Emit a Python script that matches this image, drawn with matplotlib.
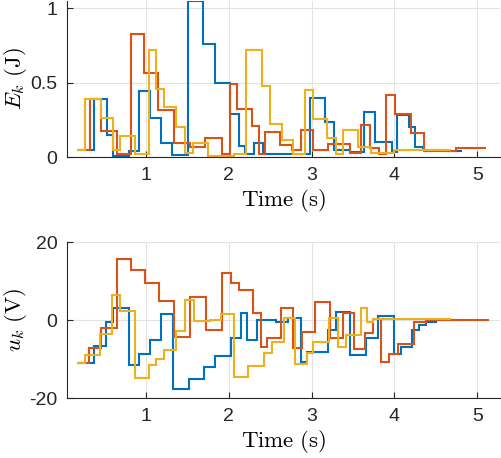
import matplotlib
matplotlib.use("Agg")
import matplotlib.pyplot as plt

# step edges (s) and values
t_E_blue = [0.17, 0.377, 0.534, 0.60, 0.795, 0.916, 1.048, 1.18, 1.32, 1.51, 1.69, 1.83, 2.02, 2.13, 2.20,
            2.31, 2.42, 2.976, 3.165, 3.27, 3.46, 3.63, 3.77, 3.97, 4.03, 4.18, 4.245, 4.34, 4.6, 4.82]
E_blue = [0.05, 0.39, 0.148, 0.01, 0.04, 0.445, 0.264, 0.092, 0.013, 1.047, 0.763, 0.50, 0.29, 0.074, 0.02,
          0.096, 0.018, 0.40, 0.233, 0.047, 0.036, 0.30, 0.10, 0.035, 0.28, 0.20, 0.065, 0.05, 0.04]

t_E_orange = [0.17, 0.325, 0.454, 0.654, 0.82, 0.98, 1.15, 1.337, 1.53, 1.72, 1.915, 2.02, 2.10, 2.277, 2.365,
              2.44, 2.62, 2.76, 2.87, 3.015, 3.2, 3.46, 3.6, 3.71, 3.81, 3.90, 4.01, 4.20, 4.355, 4.74, 5.10]
E_orange = [0.05, 0.39, 0.174, 0.018, 0.828, 0.566, 0.315, 0.092, 0.069, 0.13, 0.024, 0.49, 0.32, 0.21, 0.02,
            0.168, 0.083, 0.047, 0.18, 0.047, 0.087, 0.03, 0.215, 0.063, 0.024, 0.416, 0.29, 0.163, 0.043, 0.058]

t_E_yellow = [0.17, 0.265, 0.454, 0.60, 0.687, 0.867, 1.036, 1.12, 1.217, 1.36, 1.47, 1.57, 1.755, 2.06, 2.21,
              2.405, 2.50, 2.645, 2.78, 2.92, 3.015, 3.19, 3.29, 3.385, 3.566, 3.72, 4.0, 4.68]
E_yellow = [0.05, 0.39, 0.26, 0.047, 0.141, 0.024, 0.718, 0.456, 0.338, 0.203, 0.03, 0.096, 0.01, 0.02,
            0.718, 0.476, 0.22, 0.118, 0.018, 0.45, 0.253, 0.13, 0.02, 0.18, 0.07, 0.03, 0.05]

t_u_blue = [0.17, 0.377, 0.526, 0.60, 0.80, 0.92, 1.05, 1.18, 1.33, 1.52, 1.70, 1.835, 2.03, 2.15, 2.225, 2.34,
            2.575, 2.715, 2.876, 2.94, 3.2, 3.29, 3.465, 3.66, 3.80, 3.99, 4.08, 4.21, 4.29, 4.38, 4.50, 4.82]
u_blue = [-10.9, -6.7, -0.4, 3.2, -11.6, -8.8, -5.1, 1.45, -17.8, -15.0, -12.0, -9.3, -4.5, 1.9, -5.1, 0.0,
          -0.4, 0.4, -10.8, -8.1, -2.6, 2.1, -9.1, -4.5, 1.0, -8.8, -6.9, -2.6, -1.3, -0.4, 0.0]

t_u_orange = [0.17, 0.316, 0.454, 0.654, 0.82, 0.99, 1.157, 1.337, 1.53, 1.73, 1.92, 2.03, 2.12, 2.29, 2.386,
              2.46, 2.63, 2.775, 2.89, 3.036, 3.217, 3.377, 3.506, 3.65, 3.74, 3.84, 3.94, 4.04, 4.23, 4.38, 5.14]
u_orange = [-10.9, -7.1, -2.1, 15.6, 12.9, 9.5, 4.9, -4.4, 5.9, -2.6, 12.1, 9.6, 7.7, 1.9, -6.9,
            -4.7, 3.2, -7.1, -3.1, 4.6, -4.7, 1.9, -7.5, -3.3, 0.3, -10.8, -8.6, -6.1, -0.4, 0.1]

t_u_yellow = [0.17, 0.265, 0.446, 0.594, 0.687, 0.867, 1.04, 1.12, 1.22, 1.37, 1.475, 1.585, 1.77, 1.907, 2.06,
              2.23, 2.43, 2.52, 2.67, 2.80, 2.94, 3.015, 3.21, 3.32, 3.41, 3.60, 3.67, 3.74, 4.68]
u_yellow = [-10.9, -9.0, -3.7, 6.3, 2.3, -14.8, -11.6, -10.1, -7.8, -2.8, 5.1, -0.3, 0.1, 1.6, -14.6,
            -11.8, -8.4, -5.6, 0.4, -11.4, -8.4, -5.6, 0.6, -6.8, -3.8, 3.2, -0.4, 0.2]

colors = ["#0072BD", "#D95319", "#EDB120"]

plt.rcParams['font.family'] = ['Liberation Sans', 'DejaVu Sans']
plt.rcParams['mathtext.fontset'] = 'cm'
plt.rcParams['axes.unicode_minus'] = False

fig = plt.figure(figsize=(5.02, 4.58), dpi=100)
ax1 = fig.add_axes([0.1335, 0.657, 0.862, 0.341])
ax2 = fig.add_axes([0.1335, 0.131, 0.862, 0.3406])

top = [(t_E_blue, E_blue), (t_E_orange, E_orange), (t_E_yellow, E_yellow)]
bot = [(t_u_blue, u_blue), (t_u_orange, u_orange), (t_u_yellow, u_yellow)]

for ax, series in [(ax1, top), (ax2, bot)]:
    for (t, v), c in zip(series, colors):
        ax.stairs(v, t, color=c, linewidth=1.5, baseline=None)
    ax.set_xlim(0.05, 5.27)
    ax.set_xticks([1, 2, 3, 4, 5])
    ax.grid(True, color="#e3e3e3", linewidth=0.8)
    ax.set_axisbelow(True)
    for s in ["top", "right"]:
        ax.spines[s].set_visible(False)
    for s in ["left", "bottom"]:
        ax.spines[s].set_color("#262626")
        ax.spines[s].set_linewidth(0.8)
    ax.tick_params(direction="in", length=4, width=0.8, colors="#262626",
                   labelsize=14, pad=7)
    ax.set_xlabel(r"$\mathrm{Time\ (s)}$", fontsize=16.5, labelpad=2)

ax1.set_ylim(0, 1.05)
ax1.set_yticks([0, 0.5, 1])
ax1.set_yticklabels(["0", "0.5", "1"])
ax1.set_ylabel(r"$E_k\ \mathrm{(J)}$", fontsize=16.5)
ax1.yaxis.set_label_coords(-0.088, 0.5)

ax2.set_ylim(-20, 20)
ax2.set_yticks([-20, 0, 20])
ax2.set_ylabel(r"$u_k\ \mathrm{(V)}$", fontsize=16.5)
ax2.yaxis.set_label_coords(-0.088, 0.5)

fig.savefig("out.png", dpi=100)
